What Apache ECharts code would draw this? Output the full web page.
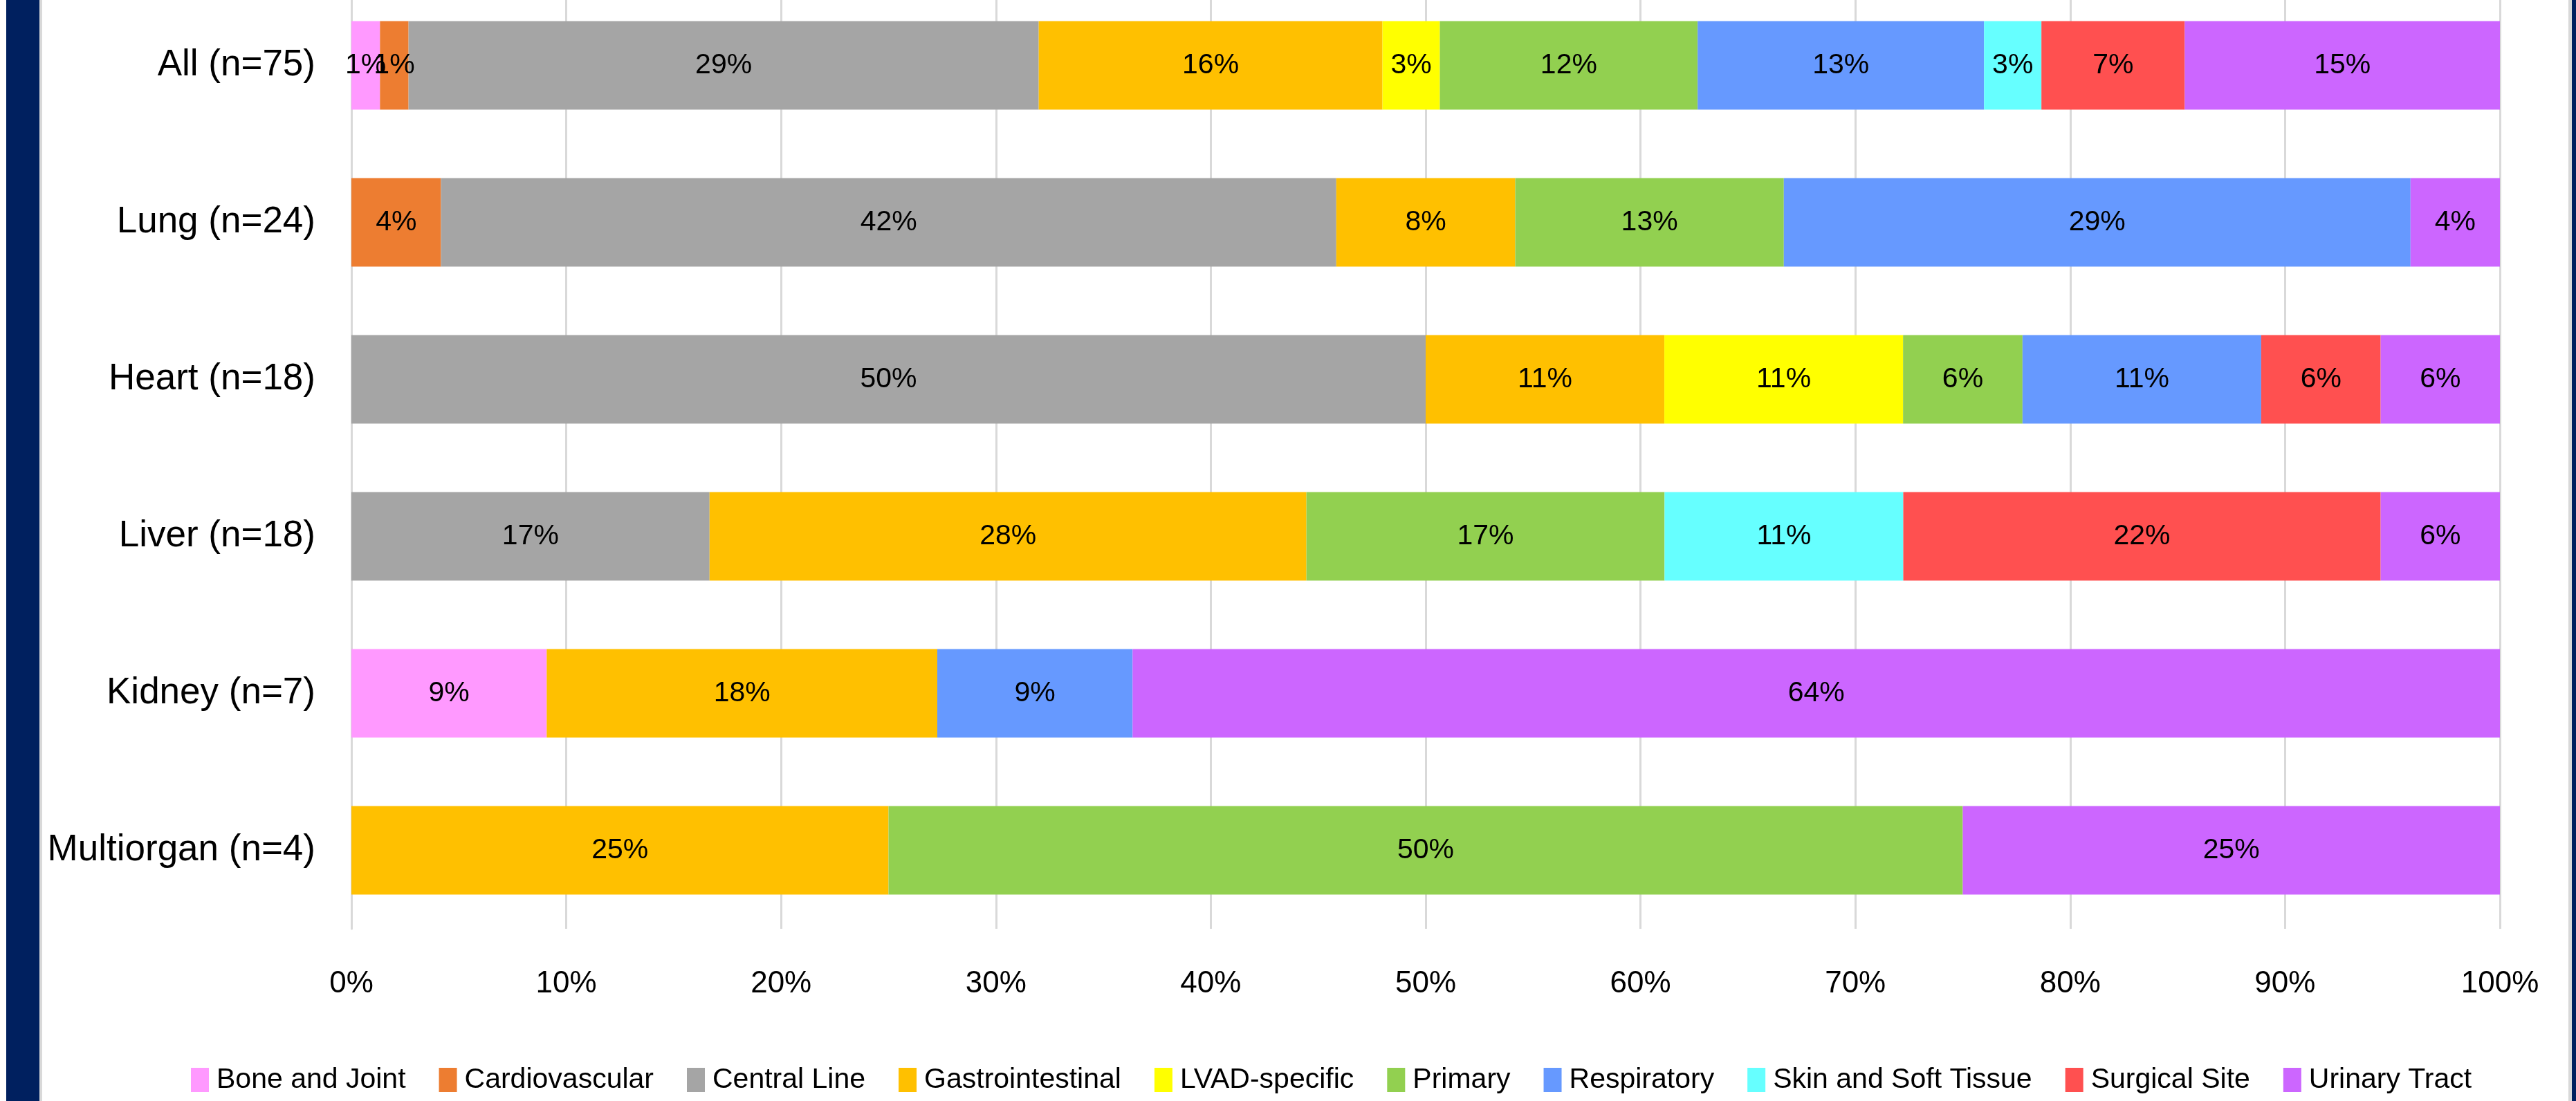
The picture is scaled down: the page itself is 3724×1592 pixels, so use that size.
<!DOCTYPE html>
<html>
<head>
<meta charset="utf-8">
<script src="https://cdn.jsdelivr.net/npm/echarts@6/dist/echarts.min.js"></script>
<style>
  html, body { margin: 0; padding: 0; background: #ffffff; }
  #chart { width: 3724px; height: 1592px; }
</style>
</head>
<body>
<div id="chart"></div>
<script>
// Share of infections by site, per transplant group (percent of infections in each group)
const groups = ['All (n=75)', 'Lung (n=24)', 'Heart (n=18)', 'Liver (n=18)', 'Kidney (n=7)', 'Multiorgan (n=4)'];

const boneJoint        = [1.33, null, null, null, 9.09, null];
const cardiovascular   = [1.33, 4.17, null, null, null, null];
const centralLine      = [29.33, 41.67, 50.00, 16.67, null, null];
const gastrointestinal = [16.00, 8.33, 11.11, 27.78, 18.18, 25.00];
const lvadSpecific     = [2.67, null, 11.11, null, null, null];
const primary          = [12.00, 12.50, 5.56, 16.67, null, 50.00];
const respiratory      = [13.33, 29.17, 11.11, null, 9.09, null];
const skinSoftTissue   = [2.67, null, null, 11.11, null, null];
const surgicalSite     = [6.67, null, 5.56, 22.22, null, null];
const urinaryTract     = [14.67, 4.17, 5.56, 5.56, 63.64, 25.00];

const percentTicks = [0, 10, 20, 30, 40, 50, 60, 70, 80, 90, 100];

const seriesDefs = [
  { name: 'Bone and Joint',        data: boneJoint,        color: '#FF99FF' },
  { name: 'Cardiovascular',        data: cardiovascular,   color: '#ED7D31' },
  { name: 'Central Line',          data: centralLine,      color: '#A5A5A5' },
  { name: 'Gastrointestinal',      data: gastrointestinal, color: '#FFC000' },
  { name: 'LVAD-specific',         data: lvadSpecific,     color: '#FFFF00' },
  { name: 'Primary',               data: primary,          color: '#92D050' },
  { name: 'Respiratory',           data: respiratory,      color: '#6699FF' },
  { name: 'Skin and Soft Tissue',  data: skinSoftTissue,   color: '#66FFFF' },
  { name: 'Surgical Site',         data: surgicalSite,     color: '#FF5050' },
  { name: 'Urinary Tract',         data: urinaryTract,     color: '#CC66FF' }
];

const FONT = "'Liberation Sans', Arial, sans-serif";
const GRID_GRAY = '#D9D9D9';
const NAVY = '#00205F';

const chart = echarts.init(document.getElementById('chart'), null, { renderer: 'canvas' });

chart.setOption({
  backgroundColor: '#ffffff',
  animation: false,
  textStyle: { fontFamily: FONT, color: '#000000' },
  // slide frame at the left and right edges
  graphic: [
    { type: 'rect', left: 9, top: 0, shape: { width: 48, height: 1592 }, style: { fill: NAVY }, silent: true },
    { type: 'rect', left: 57, top: 0, shape: { width: 4, height: 1592 }, style: { fill: GRID_GRAY }, silent: true },
    { type: 'rect', left: 3713, top: 0, shape: { width: 5, height: 1592 }, style: { fill: GRID_GRAY }, silent: true },
    { type: 'rect', left: 3718, top: 0, shape: { width: 6, height: 1592 }, style: { fill: NAVY }, silent: true }
  ],
  legend: {
    data: seriesDefs.map(s => s.name),
    left: 276,
    top: 1541,
    padding: 0,
    icon: 'rect',
    itemWidth: 26,
    itemHeight: 35,
    itemGap: 48,
    textStyle: { fontFamily: FONT, fontSize: 41, color: '#000000', padding: [0, 0, 0, 6] }
  },
  grid: {
    left: 508,
    right: 110,
    top: -19,
    bottom: 249,
    containLabel: false,
    outerBoundsMode: 'none'
  },
  xAxis: {
    type: 'value',
    min: percentTicks[0],
    max: percentTicks[percentTicks.length - 1],
    interval: 10,
    axisLine: { show: false },
    axisTick: { show: false },
    splitLine: { show: true, lineStyle: { color: GRID_GRAY, width: 3 } },
    axisLabel: {
      formatter: '{value}%',
      fontFamily: FONT,
      fontSize: 44,
      color: '#000000',
      margin: 58
    }
  },
  yAxis: {
    type: 'category',
    data: groups,
    inverse: true,
    axisLine: { show: true, lineStyle: { color: GRID_GRAY, width: 3 } },
    axisTick: { show: false },
    axisLabel: {
      fontFamily: FONT,
      fontSize: 53,
      color: '#000000',
      margin: 52
    }
  },
  series: seriesDefs.map(s => ({
    name: s.name,
    type: 'bar',
    stack: 'share',
    barWidth: 128,
    data: s.data,
    itemStyle: { color: s.color },
    label: {
      show: true,
      position: 'inside',
      fontFamily: FONT,
      fontSize: 41,
      color: '#000000',
      formatter: p => (p.value == null ? '' : Math.round(p.value) + '%')
    }
  }))
});
</script>
</body>
</html>
